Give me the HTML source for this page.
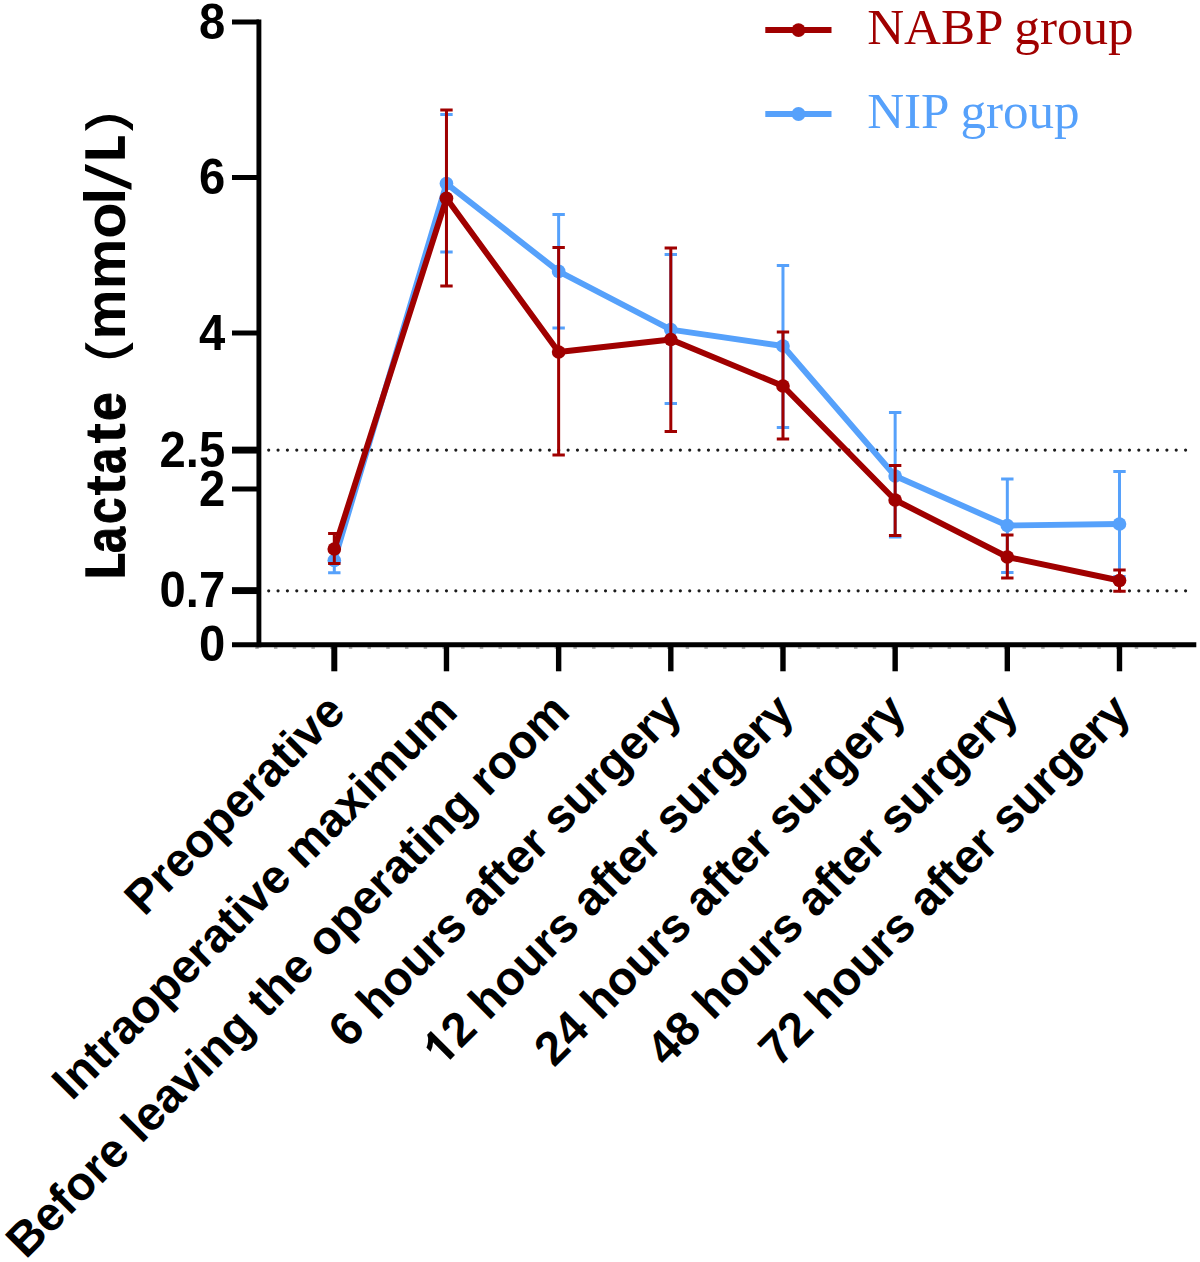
<!DOCTYPE html>
<html><head><meta charset="utf-8"><title>Lactate chart</title>
<style>
html,body{margin:0;padding:0;background:#fff;}
body{width:1200px;height:1262px;overflow:hidden;}
svg{display:block;}
text{font-family:"Liberation Sans",sans-serif;font-weight:bold;fill:#000;}
.tk{font-size:47.2px;text-anchor:end;}
.xl{font-size:47.45px;text-anchor:end;}
.lg{font-family:"Liberation Serif",serif;font-weight:normal;font-size:51.1px;}
</style></head><body>
<svg width="1200" height="1262" viewBox="0 0 1200 1262">
<rect width="1200" height="1262" fill="#fff"/>

<g stroke="#1c1c1c" stroke-width="3.2" stroke-linecap="round" fill="none">
<path d="M268.7 450.1H1189" stroke-dasharray="0 9.356"/>
<path d="M268.7 590.8H1189" stroke-dasharray="0 9.356"/>
</g>
<path d="M255.25 648H1189" stroke="#999" stroke-width="1.6" stroke-dasharray="3.5 15.212" fill="none"/>
<path d="M334.30 548.30V572.70M328.10 548.30H340.50M328.10 572.70H340.50" stroke="#56a1fb" stroke-width="3" fill="none"/>
<path d="M446.47 114.50V252.00M440.27 114.50H452.67M440.27 252.00H452.67" stroke="#56a1fb" stroke-width="3" fill="none"/>
<path d="M558.64 214.40V328.00M552.44 214.40H564.84M552.44 328.00H564.84" stroke="#56a1fb" stroke-width="3" fill="none"/>
<path d="M670.81 254.60V403.40M664.61 254.60H677.01M664.61 403.40H677.01" stroke="#56a1fb" stroke-width="3" fill="none"/>
<path d="M782.98 265.40V427.40M776.78 265.40H789.18M776.78 427.40H789.18" stroke="#56a1fb" stroke-width="3" fill="none"/>
<path d="M895.15 412.40V537.00M888.95 412.40H901.35M888.95 537.00H901.35" stroke="#56a1fb" stroke-width="3" fill="none"/>
<path d="M1007.32 479.00V572.60M1001.12 479.00H1013.52M1001.12 572.60H1013.52" stroke="#56a1fb" stroke-width="3" fill="none"/>
<path d="M1119.49 471.50V576.50M1113.29 471.50H1125.69M1113.29 576.50H1125.69" stroke="#56a1fb" stroke-width="3" fill="none"/>
<polyline points="334.30,560.50 446.47,183.60 558.64,271.40 670.81,329.60 782.98,346.00 895.15,476.00 1007.32,525.50 1119.49,524.00" fill="none" stroke="#56a1fb" stroke-width="5.9" stroke-linejoin="round" stroke-linecap="round"/>
<circle cx="334.30" cy="560.50" r="6.85" fill="#56a1fb"/>
<circle cx="446.47" cy="183.60" r="6.85" fill="#56a1fb"/>
<circle cx="558.64" cy="271.40" r="6.85" fill="#56a1fb"/>
<circle cx="670.81" cy="329.60" r="6.85" fill="#56a1fb"/>
<circle cx="782.98" cy="346.00" r="6.85" fill="#56a1fb"/>
<circle cx="895.15" cy="476.00" r="6.85" fill="#56a1fb"/>
<circle cx="1007.32" cy="525.50" r="6.85" fill="#56a1fb"/>
<circle cx="1119.49" cy="524.00" r="6.85" fill="#56a1fb"/>
<path d="M334.30 533.50V563.50M328.10 533.50H340.50M328.10 563.50H340.50" stroke="#a00000" stroke-width="3" fill="none"/>
<path d="M446.47 110.00V286.00M440.27 110.00H452.67M440.27 286.00H452.67" stroke="#a00000" stroke-width="3" fill="none"/>
<path d="M558.64 247.40V455.00M552.44 247.40H564.84M552.44 455.00H564.84" stroke="#a00000" stroke-width="3" fill="none"/>
<path d="M670.81 248.00V431.60M664.61 248.00H677.01M664.61 431.60H677.01" stroke="#a00000" stroke-width="3" fill="none"/>
<path d="M782.98 332.00V439.00M776.78 332.00H789.18M776.78 439.00H789.18" stroke="#a00000" stroke-width="3" fill="none"/>
<path d="M895.15 465.50V535.40M888.95 465.50H901.35M888.95 535.40H901.35" stroke="#a00000" stroke-width="3" fill="none"/>
<path d="M1007.32 535.00V578.00M1001.12 535.00H1013.52M1001.12 578.00H1013.52" stroke="#a00000" stroke-width="3" fill="none"/>
<path d="M1119.49 570.00V591.25M1113.29 570.00H1125.69M1113.29 591.25H1125.69" stroke="#a00000" stroke-width="3" fill="none"/>
<polyline points="334.30,549.00 446.47,198.30 558.64,352.00 670.81,339.50 782.98,386.00 895.15,500.00 1007.32,557.00 1119.49,580.50" fill="none" stroke="#a00000" stroke-width="5.9" stroke-linejoin="round" stroke-linecap="round"/>
<circle cx="334.30" cy="549.00" r="6.85" fill="#a00000"/>
<circle cx="446.47" cy="198.30" r="6.85" fill="#a00000"/>
<circle cx="558.64" cy="352.00" r="6.85" fill="#a00000"/>
<circle cx="670.81" cy="339.50" r="6.85" fill="#a00000"/>
<circle cx="782.98" cy="386.00" r="6.85" fill="#a00000"/>
<circle cx="895.15" cy="500.00" r="6.85" fill="#a00000"/>
<circle cx="1007.32" cy="557.00" r="6.85" fill="#a00000"/>
<circle cx="1119.49" cy="580.50" r="6.85" fill="#a00000"/>
<g stroke="#000" fill="none">
<path d="M258.9 19.5V647.2" stroke-width="4.9"/>
<path d="M232 644.75H1196.3" stroke-width="5"/>
<path d="M232 22H259" stroke-width="5"/>
<path d="M232 177.5H259" stroke-width="5"/>
<path d="M232 333H259" stroke-width="5"/>
<path d="M232 489H259" stroke-width="5"/>
<path d="M232 450.1H259" stroke-width="6.9"/>
<path d="M232 590.6H259" stroke-width="6.9"/>
<path d="M334.30 645V671.3" stroke-width="6"/>
<path d="M446.47 645V671.3" stroke-width="5.4"/>
<path d="M558.64 645V671.3" stroke-width="5.4"/>
<path d="M670.81 645V671.3" stroke-width="5.4"/>
<path d="M782.98 645V671.3" stroke-width="5.4"/>
<path d="M895.15 645V671.3" stroke-width="5.4"/>
<path d="M1007.32 645V671.3" stroke-width="5.4"/>
<path d="M1119.49 645V671.3" stroke-width="5.4"/>
</g>
<text class="tk" transform="translate(225.2 38.60) scale(1 1.04)">8</text>
<text class="tk" transform="translate(225.2 194.10) scale(1 1.04)">6</text>
<text class="tk" transform="translate(225.2 349.60) scale(1 1.04)">4</text>
<text class="tk" transform="translate(225.2 466.60) scale(1 1.04)">2.5</text>
<text class="tk" transform="translate(225.2 505.60) scale(1 1.04)">2</text>
<text class="tk" transform="translate(225.2 607.20) scale(1 1.04)">0.7</text>
<text class="tk" transform="translate(225.2 661.35) scale(1 1.04)">0</text>
<text class="xl" transform="translate(347.40 714) rotate(-45)">Preoperative</text>
<text class="xl" transform="translate(459.57 714) rotate(-45)">Intraoperative maximum</text>
<text class="xl" transform="translate(571.74 714) rotate(-45)">Before leaving the operating room</text>
<text class="xl" transform="translate(683.91 714) rotate(-45)">6 hours after surgery</text>
<path transform="translate(796.08 714) rotate(-45) translate(-500.92 0) scale(0.023169 -0.023169)" d="M801 0H520V1059Q366 915 157 846V1101Q267 1137 396 1237.5Q525 1338 573 1472H801Z" fill="#000"/>
<text class="xl" transform="translate(796.08 714) rotate(-45)">2 hours after surgery</text>
<text class="xl" transform="translate(908.25 714) rotate(-45)">24 hours after surgery</text>
<text class="xl" transform="translate(1020.42 714) rotate(-45)">48 hours after surgery</text>
<text class="xl" transform="translate(1132.59 714) rotate(-45)">72 hours after surgery</text>
<g transform="translate(125.0 0) rotate(-90)" font-size="57">
<text transform="translate(-553.08 0) scale(0.8200 1)" stroke="#000" stroke-width="1.0" stroke-linejoin="round">a</text>
<text transform="translate(-524.07 0) scale(0.8380 1)" stroke="#000" stroke-width="1.0" stroke-linejoin="round">c</text>
<text transform="translate(-495.64 0) scale(1.1000 1)">t</text>
<text transform="translate(-473.68 0) scale(0.8200 1)" stroke="#000" stroke-width="1.0" stroke-linejoin="round">a</text>
<text transform="translate(-443.64 0) scale(1.1000 1)">t</text>
<text transform="translate(-421.12 0) scale(0.9082 1)" stroke="#000" stroke-width="1.0" stroke-linejoin="round">e</text>
<text transform="translate(-339.61 0) scale(0.9887 1)">m</text>
<text transform="translate(-289.24 0) scale(0.9956 1)">m</text>
<text transform="translate(-238.72 0) scale(1.0407 1)">o</text>
<text transform="translate(-204.98 0) scale(1.1000 1)">l</text>
</g>
<path d="M85.3 567.9H118.0V553.8H124.9V576.6H85.3Z" fill="#000"/>
<path d="M85.3 150.0H118.0V136.3H124.9V158.6H85.3Z" fill="#000"/>
<path d="M85 164.1L85 170.7L131.5 189.9L131.5 183.2Z" fill="#000"/>
<path d="M85.2 342.3 Q109.1 363.1 133 342.3 L133 349 Q109.1 367.6 85.2 349 Z" fill="#000"/>
<path d="M85.2 131 Q109.1 110.4 133 131 L133 124.3 Q109.1 105.7 85.2 124.3 Z" fill="#000"/>
<path d="M765.3 30.1H831.5" stroke="#a00000" stroke-width="6"/><circle cx="798.5" cy="30.1" r="6.9" fill="#a00000"/>
<path d="M765.3 114H831.5" stroke="#56a1fb" stroke-width="6"/><circle cx="798.5" cy="114" r="6.9" fill="#56a1fb"/>
<text class="lg" x="867.2" y="44.3" style="fill:#a00000">NABP group</text>
<text class="lg" x="867.2" y="128.3" style="fill:#56a1fb">NIP group</text>
</svg></body></html>
